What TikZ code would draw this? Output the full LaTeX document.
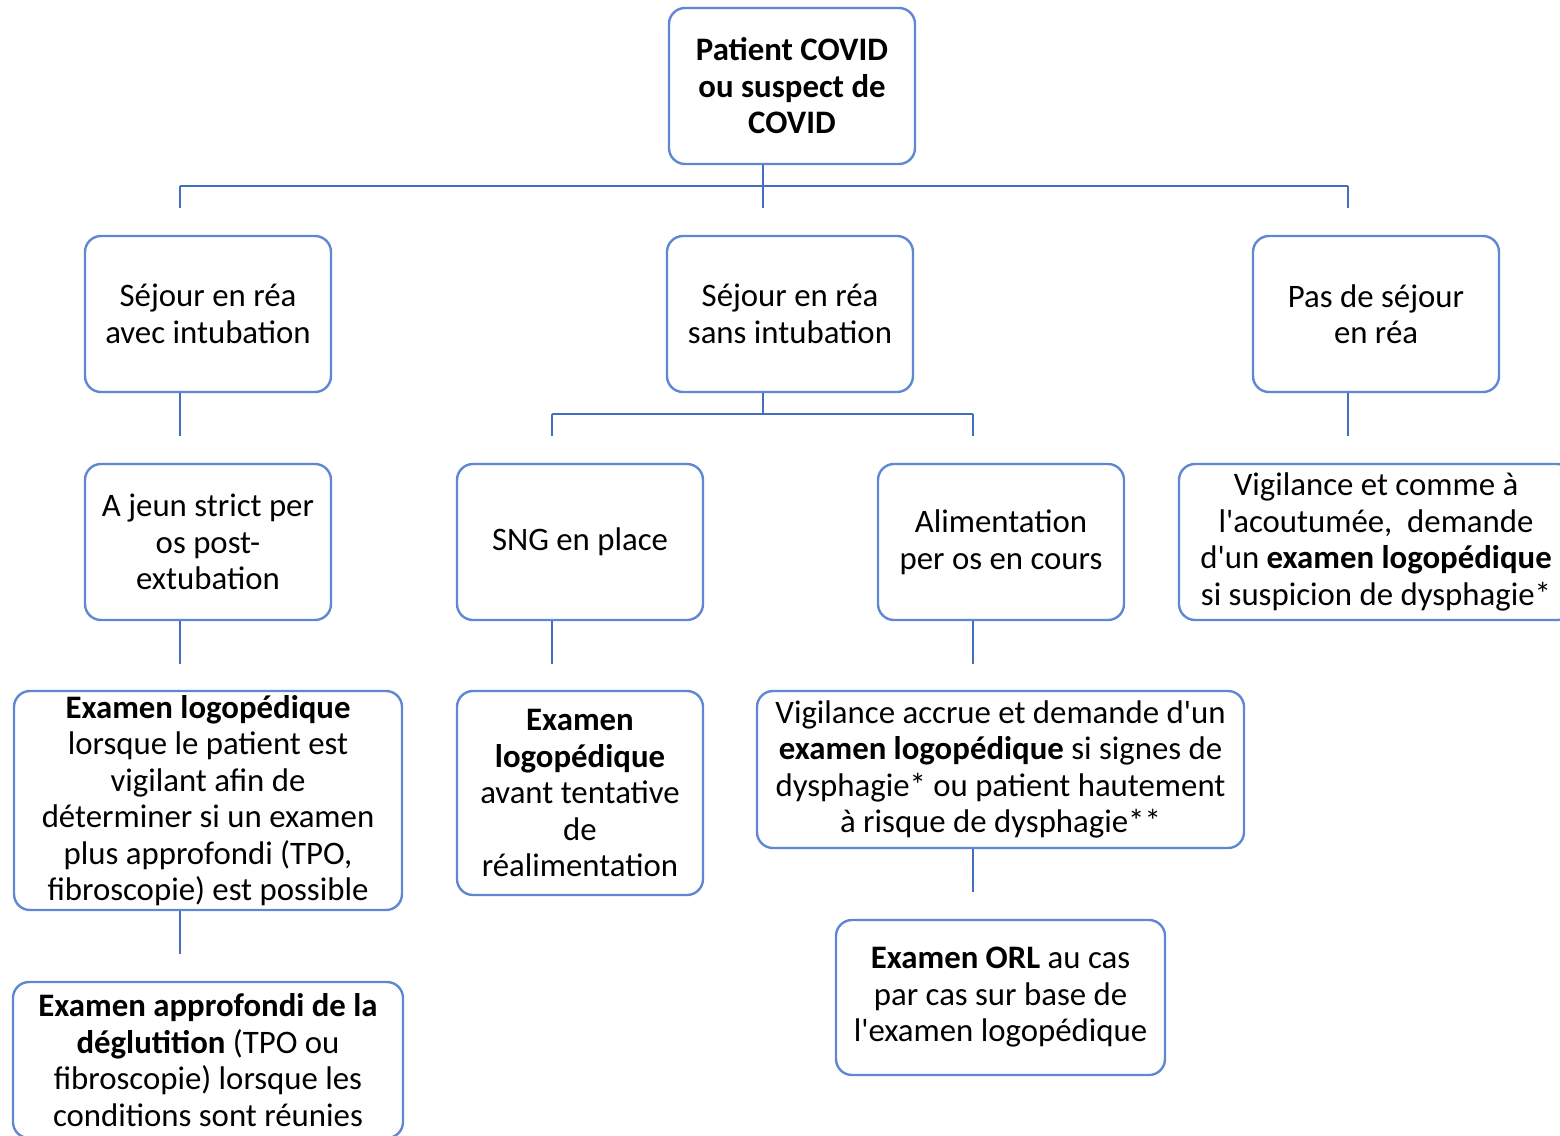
\documentclass[tikz,border=0pt]{standalone}
\usepackage{fontspec}
\setmainfont{Carlito}[Ligatures=TeXOff]
\definecolor{boxblue}{RGB}{95,135,212}
\definecolor{lineblue}{RGB}{68,110,192}
\begin{document}
\begin{tikzpicture}[x=1pt,y=-1pt,
  box/.style={draw=boxblue, line width=2.4pt, rounded corners=16pt, align=center, inner sep=0pt,
    font=\fontsize{32.8}{36.5}\selectfont},
  conn/.style={draw=lineblue, line width=2.2pt}]
\useasboundingbox (0,0) rectangle (1560,1135);
% row 1
\node[box, minimum width=246pt, minimum height=156pt] (top) at (792,86) {\textbf{Patient COVID}\\\textbf{ou suspect de}\\\textbf{COVID}};
% row 2
\node[box, minimum width=246pt, minimum height=156pt] (r1) at (208,314) {Séjour en réa\\avec intubation};
\node[box, minimum width=246pt, minimum height=156pt] (r2) at (790,314) {Séjour en réa\\sans intubation};
\node[box, minimum width=246pt, minimum height=156pt] (r3) at (1376,314) {Pas de séjour\\en réa};
% row 3
\node[box, minimum width=246pt, minimum height=156pt] (a1) at (208,542) {A jeun strict per\\os post-\\extubation};
\node[box, minimum width=246pt, minimum height=156pt] (a2) at (580,542) {SNG en place};
\node[box, minimum width=246pt, minimum height=156pt] (a3) at (1001,542) {Alimentation\\per os en cours};
\node[box, minimum width=394pt, minimum height=156pt] (a4) at (1376,542) {Vigilance et comme à\\l'acoutumée,~ demande\\d'un \textbf{examen logopédique}\\si suspicion de dysphagie*};
% row 4
\node[box, minimum width=388pt, minimum height=219pt] (b1) at (208,800.5) {\textbf{Examen logopédique}\\lorsque le patient est\\vigilant afin de\\déterminer si un examen\\plus approfondi (TPO,\\fibroscopie) est possible};
\node[box, minimum width=246pt, minimum height=204pt] (b2) at (580,793) {\textbf{Examen}\\\textbf{logopédique}\\avant tentative\\de\\réalimentation};
\node[box, minimum width=487pt, minimum height=157pt] (b3) at (1000.5,769.5) {Vigilance accrue et demande d'un\\\textbf{examen logopédique} si signes de\\dysphagie* ou patient hautement\\à risque de dysphagie**};
% row 5
\node[box, minimum width=390pt, minimum height=156pt] (c1) at (208,1060) {\textbf{Examen approfondi de la}\\\textbf{déglutition} (TPO ou\\fibroscopie) lorsque les\\conditions sont réunies};
\node[box, minimum width=329pt, minimum height=155pt] (c3) at (1000.5,997.5) {\textbf{Examen ORL} au cas\\par cas sur base de\\l'examen logopédique};
% junction coordinates
\coordinate (j0) at (763,186);
\coordinate (jL) at (180,186);
\coordinate (jR) at (1348,186);
\coordinate (jLe) at (180,208);
\coordinate (jMe) at (763,208);
\coordinate (jRe) at (1348,208);
\coordinate (k0) at (763,414);
\coordinate (kL) at (552,414);
\coordinate (kR) at (973,414);
\coordinate (kLe) at (552,436);
\coordinate (kRe) at (973,436);
\coordinate (e1) at (180,436);
\coordinate (e3) at (1348,436);
\coordinate (f1) at (180,664);
\coordinate (f2) at (552,664);
\coordinate (f3) at (973,664);
\coordinate (g1) at (180,954);
\coordinate (g3) at (973,892);
% connectors
\draw[conn] (top.south -| j0) -- (j0);
\draw[conn] (jL) -- (jR);
\draw[conn] (jL) -- (jLe);
\draw[conn] (j0) -- (jMe);
\draw[conn] (jR) -- (jRe);
\draw[conn] (r1.south -| e1) -- (e1);
\draw[conn] (r2.south -| k0) -- (k0);
\draw[conn] (kL) -- (kR);
\draw[conn] (kL) -- (kLe);
\draw[conn] (kR) -- (kRe);
\draw[conn] (r3.south -| e3) -- (e3);
\draw[conn] (a1.south -| f1) -- (f1);
\draw[conn] (a2.south -| f2) -- (f2);
\draw[conn] (a3.south -| f3) -- (f3);
\draw[conn] (b1.south -| g1) -- (g1);
\draw[conn] (b3.south -| g3) -- (g3);
\end{tikzpicture}
\end{document}
